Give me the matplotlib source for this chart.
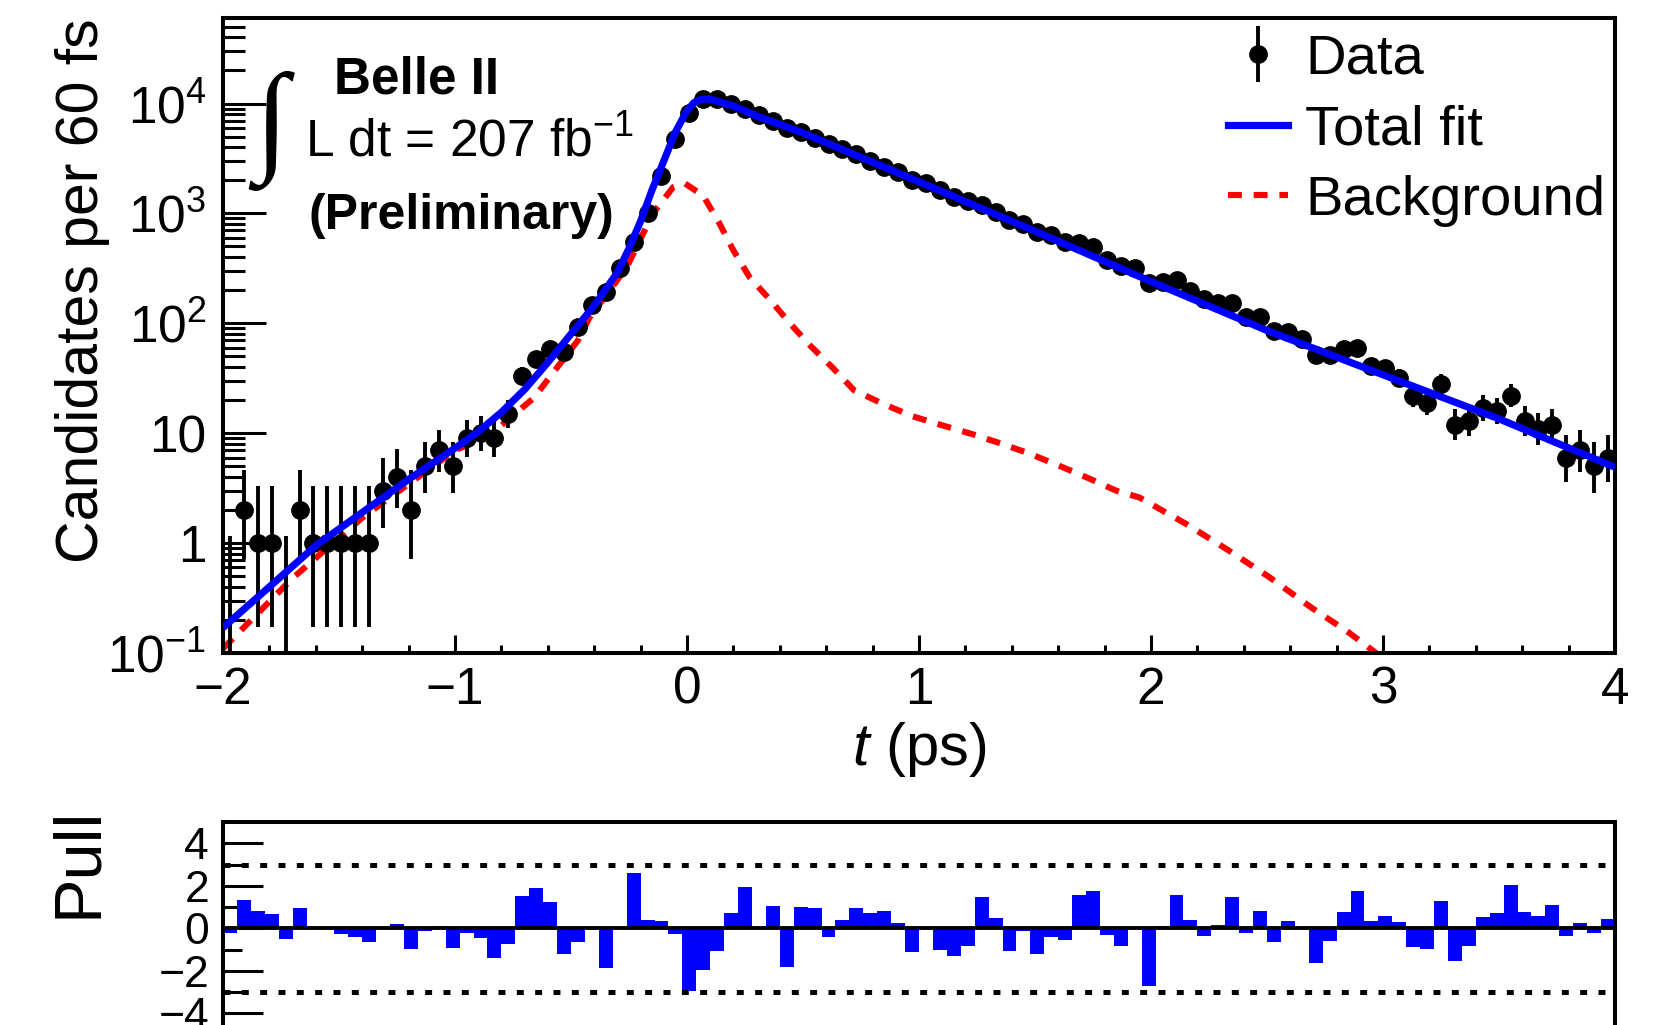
import numpy as np
import matplotlib
matplotlib.use("Agg")
import matplotlib.pyplot as plt
from matplotlib.ticker import FixedLocator, FixedFormatter, LogLocator, NullFormatter, MultipleLocator

plt.rcParams['font.family'] = ['Liberation Sans', 'DejaVu Sans']
plt.rcParams['mathtext.fontset'] = 'custom'
plt.rcParams['mathtext.rm'] = 'Liberation Sans'
plt.rcParams['mathtext.it'] = 'Liberation Sans:italic'
plt.rcParams['mathtext.bf'] = 'Liberation Sans:bold'
plt.rcParams['lines.scale_dashes'] = False

# 60 fs bins from -2 to 4 ps
edges = np.linspace(-2.0, 4.0, 101)
t_bin = 0.5 * (edges[:-1] + edges[1:])

counts = [0, 2, 1, 1, 0, 2, 1, 1, 1, 1,
          1, 3, 4, 2, 5, 7, 5, 9, 10, 9,
          15, 33, 47, 58, 55, 92, 146, 191, 316, 545,
          1000, 2200, 4800, 8200, 10900, 11000, 9800, 9000, 7800, 7000,
          6000, 5450, 4900, 4240, 3820, 3440, 3030, 2670, 2360, 2000,
          1880, 1620, 1400, 1290, 1200, 1040, 880, 795, 671, 630,
          545, 534, 490, 374, 330, 316, 231, 240, 246, 195,
          165, 152, 152, 113, 113, 86, 83, 72, 51, 51,
          58, 59, 41, 39, 32, 22, 19, 28, 12, 13,
          17, 16, 22, 13, 11, 12, 6, 7, 5, 6]

pulls = [-0.2, 1.33, 0.83, 0.67, -0.5, 0.97, 0.05, 0.0, -0.27, -0.42,
         -0.66, 0.0, 0.2, -0.97, -0.15, 0.12, -0.93, -0.2, -0.45, -1.4,
         -0.74, 1.52, 1.88, 1.22, -1.19, -0.67, 0.0, -1.87, 0.08, 2.6,
         0.39, 0.33, -0.27, -2.95, -1.95, -1.08, 0.7, 1.95, 0.0, 1.04,
         -1.8, 1.0, 0.97, -0.41, 0.39, 0.97, 0.7, 0.8, 0.24, -1.11,
         0.0, -1.02, -1.32, -0.85, 1.49, 0.47, -1.08, -0.15, -1.19, -0.42,
         -0.55, 1.55, 1.74, -0.31, -0.82, 0.08, -2.72, 0.1, 1.55, 0.39,
         -0.35, 0.17, 1.49, -0.2, 0.83, -0.64, 0.33, 0.0, -1.63, -0.6,
         0.75, 1.74, 0.36, 0.57, 0.28, -0.9, -0.97, 1.27, -1.55, -0.82,
         0.55, 0.72, 2.03, 0.75, 0.57, 1.11, -0.38, 0.24, -0.24, 0.42]

# total fit curve
fit_t = [-2.0, -1.8, -1.6, -1.4, -1.2, -1.0, -0.9, -0.8, -0.7, -0.6, -0.5, -0.4,
         -0.3, -0.25, -0.2, -0.15, -0.1, -0.05, 0.0, 0.03, 0.06, 0.1, 0.15, 0.2,
         0.3, 0.5, 1.0, 1.5, 2.0, 2.5, 3.0, 3.5, 4.0]
fit_v = [0.17, 0.40, 0.95, 1.9, 3.8, 7.3, 10.3, 15.5, 25, 44, 80, 145,
         290, 480, 850, 1650, 3000, 5500, 8600, 10200, 10900, 11000, 10200, 9500,
         7700, 5400, 1940, 690, 240, 86, 34, 13.5, 4.9]

# background curve
bkg_t = [-2.0, -1.7, -1.4, -1.18, -1.0, -0.86, -0.66, -0.47, -0.42, -0.26, -0.147,
         -0.06, -0.01, 0.07, 0.14, 0.2, 0.27, 0.36, 0.44, 0.53, 0.63, 0.72,
         0.84, 0.97, 1.1, 1.23, 1.35, 1.47, 1.6, 1.73, 1.85, 1.95, 2.15, 2.33,
         2.51, 2.69, 2.85, 2.97]
bkg_v = [0.11, 0.48, 1.7, 3.7, 7.0, 9.2, 21, 70, 113, 323, 1000,
         1730, 1880, 1450, 810, 460, 262, 162, 102, 63, 39, 24.6,
         18.7, 14.3, 11.8, 9.8, 8.1, 6.6, 5.1, 3.9, 3.0, 2.6, 1.5, 0.87,
         0.49, 0.26, 0.155, 0.1]

W, H = 1659, 1025
fig = plt.figure(figsize=(W / 100, H / 100), dpi=100)

def px(x0, y0, x1, y1):
    return [x0 / W, 1 - y1 / H, (x1 - x0) / W, (y1 - y0) / H]

ax = fig.add_axes(px(223, 18, 1615, 653))
axp = fig.add_axes(px(223, 822, 1615, 1034.5))

# Poisson (68%) intervals for the data points
n = np.array(counts, dtype=float)
n1 = np.maximum(n, 1)
lo = np.where(n > 0, n * (1 - 1 / (9 * n1) - 1 / (3 * np.sqrt(n1))) ** 3, 0)
hi = (n + 1) * (1 - 1 / (9 * (n + 1)) + 1 / (3 * np.sqrt(n + 1))) ** 3
hi = np.where(n > 0, hi, 1.15)
nz = n > 0
ax.errorbar(t_bin[nz], n[nz], yerr=[n[nz] - lo[nz], hi[nz] - n[nz]], fmt='o', color='black',
            ms=12.5, elinewidth=2.8, capsize=0, zorder=3)
ax.vlines(t_bin[~nz], 0.01, hi[~nz], color='black', lw=2.8, zorder=3)

ax.plot(fit_t, fit_v, color='#0000ff', lw=5.2, zorder=4, solid_capstyle='butt')
ax.plot(bkg_t, bkg_v, color='#ff0000', lw=4.4, dashes=(10, 8.5), zorder=2)

ax.set_yscale('log')
ax.set_xlim(-2, 4)
ax.set_ylim(0.1, 6e4)
ax.yaxis.set_major_locator(FixedLocator([0.1, 1, 10, 100, 1000, 10000]))
ax.yaxis.set_major_formatter(FixedFormatter(['10$^{-1}$', '1', '10', '10$^{2}$', '10$^{3}$', '10$^{4}$']))
ax.yaxis.set_minor_locator(LogLocator(base=10, subs=np.arange(2, 10), numticks=20))
ax.yaxis.set_minor_formatter(NullFormatter())
ax.xaxis.set_major_locator(MultipleLocator(1))
ax.xaxis.set_minor_locator(MultipleLocator(0.2))
ax.tick_params(axis='x', which='major', direction='in', length=13, width=2.2, labelsize=37, pad=9)
ax.tick_params(axis='x', which='minor', direction='in', length=6, width=2.2)
ax.tick_params(axis='y', which='major', direction='in', length=31, width=2.2, labelsize=37, pad=12)
ax.tick_params(axis='y', which='minor', direction='in', length=16, width=2.2)
for s in ax.spines.values():
    s.set_linewidth(2.9)

ax.set_xlabel('$t$ (ps)', fontsize=43, labelpad=4)
ax.set_ylabel('Candidates per 60 fs', fontsize=42.5, loc='top')
ax.yaxis.set_label_coords(-0.081, 1.0)

# legend
h_data = ax.errorbar([], [], yerr=[[], []], fmt='o', color='black', ms=12.5, elinewidth=2.8,
                     capsize=6, capthick=2.8)
h_fit, = ax.plot([], [], color='#0000ff', lw=5.2)
h_bkg, = ax.plot([], [], color='#ff0000', lw=4.4, dashes=(10, 8.5))
ax.legend([h_data, h_fit, h_bkg], ['Data', 'Total fit', 'Background'], loc='upper right',
          bbox_to_anchor=(0.993, 0.975), frameon=False, fontsize=40.5, borderpad=0,
          borderaxespad=0, handlelength=1.07, handletextpad=0.3, labelspacing=0.33)

# labels on the plot
fig.text(417 / W, 1 - 80 / H, 'Belle II', fontsize=37, fontweight='bold', ha='center', va='center')
fig.text(271 / W, 1 - 131 / H, '\u222b', fontsize=88, family='Liberation Serif', ha='center', va='center')
fig.text(305 / W, 1 - 157 / H, 'L dt = 207 fb$^{-1}$', fontsize=37, ha='left', va='baseline')
fig.text(461 / W, 1 - 216 / H, '(Preliminary)', fontsize=36, fontweight='bold', ha='center', va='center')

# pull panel
axp.bar(t_bin, pulls, width=0.06, color='#0000ff', edgecolor='none', zorder=2)
axp.axhline(0, color='black', lw=2.8, zorder=3)
for y in (3, -3):
    axp.axhline(y, color='black', lw=3.6, dashes=(5, 8.2), zorder=3)
axp.set_xlim(-2, 4)
axp.set_ylim(-5, 5)
axp.yaxis.set_major_locator(FixedLocator([-4, -2, 0, 2, 4]))
axp.yaxis.set_minor_locator(FixedLocator([-3, -1, 1, 3]))
axp.xaxis.set_major_locator(MultipleLocator(1))
axp.xaxis.set_minor_locator(MultipleLocator(0.2))
axp.tick_params(axis='y', which='major', direction='in', length=29, width=2.2, labelsize=32, pad=10)
axp.tick_params(axis='y', which='minor', direction='in', length=14, width=2.2)
axp.tick_params(axis='x', which='both', direction='in', labelbottom=False)
for s in axp.spines.values():
    s.set_linewidth(2.9)
axp.set_ylabel('Pull', fontsize=48, loc='top')
axp.yaxis.set_label_coords(-0.081, 1.07)

fig.savefig('out.png', dpi=100)
